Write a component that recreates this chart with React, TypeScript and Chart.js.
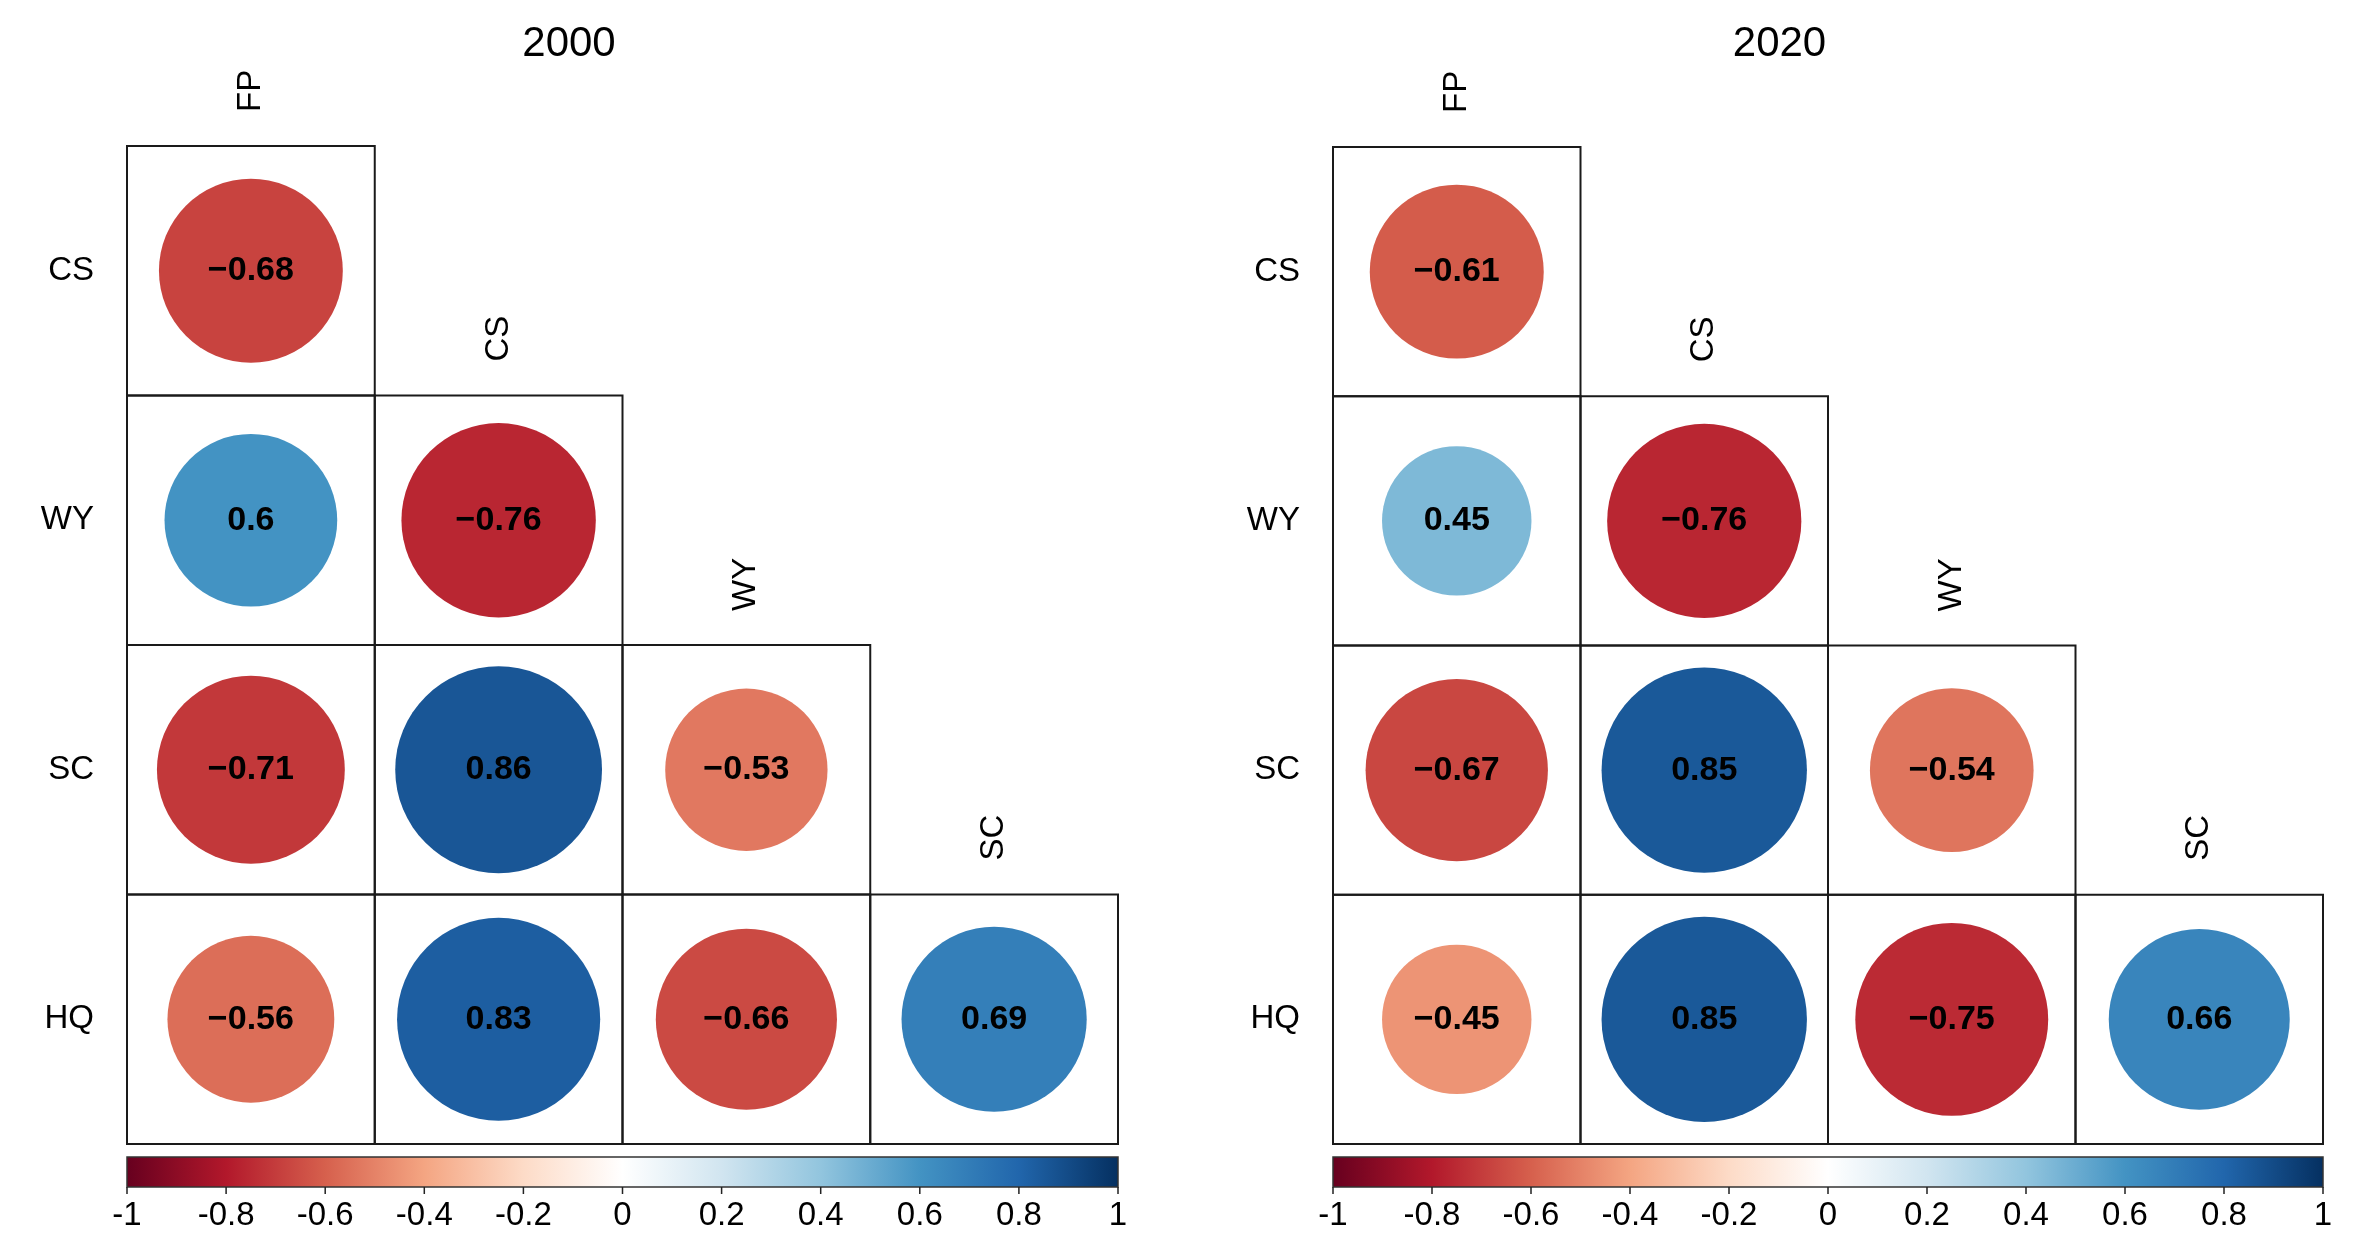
import React, { useEffect, useRef } from "react";
import { Chart, registerables } from "chart.js";

Chart.register(...registerables);

// ---------- data ----------
const rowLabels = ["CS", "WY", "SC", "HQ"];
const colLabels = ["FP", "CS", "WY", "SC"];
const cbTicks = [-1, -0.8, -0.6, -0.4, -0.2, 0, 0.2, 0.4, 0.6, 0.8, 1];

const csRow2000 = [-0.68];
const wyRow2000 = [0.6, -0.76];
const scRow2000 = [-0.71, 0.86, -0.53];
const hqRow2000 = [-0.56, 0.83, -0.66, 0.69];

const csRow2020 = [-0.61];
const wyRow2020 = [0.45, -0.76];
const scRow2020 = [-0.67, 0.85, -0.54];
const hqRow2020 = [-0.45, 0.85, -0.75, 0.66];

// ---------- style ----------
const palette = [
  "#67001F", "#B2182B", "#D6604D", "#F4A582", "#FDDBC7", "#FFFFFF",
  "#D1E5F0", "#92C5DE", "#4393C3", "#2166AC", "#053061",
];
const FONT = "'Liberation Sans', Arial, Helvetica, sans-serif";

function hexToRgb(h: string) {
  const n = parseInt(h.slice(1), 16);
  return [(n >> 16) & 255, (n >> 8) & 255, n & 255];
}
function colorFor(v: number) {
  const t = Math.max(0, Math.min(1, (v + 1) / 2)) * (palette.length - 1);
  const i = Math.min(palette.length - 2, Math.floor(t));
  const f = t - i;
  const a = hexToRgb(palette[i]);
  const b = hexToRgb(palette[i + 1]);
  const c = a.map((x, k) => Math.round(x + (b[k] - x) * f));
  return `rgb(${c[0]},${c[1]},${c[2]})`;
}
function fmtCell(v: number) {
  return (v < 0 ? "\u2212" : "") + String(Math.abs(v));
}
function fmtTick(v: number) {
  const r = Math.round(v * 10) / 10;
  if (r === 0) return "0";
  return (r < 0 ? "-" : "") + String(Math.abs(r));
}

type Geo = { axisW: number; right: number; top: number; bottomH: number; titleFrac: number };

function CorrPanel({ title, rows, geo }: { title: string; rows: number[][]; geo: Geo }) {
  const ref = useRef<HTMLCanvasElement>(null);
  useEffect(() => {
    const points: { x: number; y: number; v: number; r?: number }[] = [];
    rows.forEach((row, i) => row.forEach((v, j) => points.push({ x: j + 0.5, y: i + 0.5, v })));

    const decor = {
      id: "corrDecor",
      beforeDatasetsDraw(chart: any) {
        const { ctx } = chart;
        const xs = chart.scales.x, ys = chart.scales.y;
        ctx.save();
        ctx.strokeStyle = "#1a1a1a";
        ctx.lineWidth = 2;
        rows.forEach((row, i) =>
          row.forEach((_v, j) => {
            const x0 = xs.getPixelForValue(j), x1 = xs.getPixelForValue(j + 1);
            const y0 = ys.getPixelForValue(i), y1 = ys.getPixelForValue(i + 1);
            ctx.strokeRect(x0, Math.min(y0, y1), x1 - x0, Math.abs(y1 - y0));
          })
        );
        ctx.restore();
      },
      afterDatasetsDraw(chart: any) {
        const { ctx, chartArea } = chart;
        const xs = chart.scales.x, ys = chart.scales.y;
        ctx.save();
        // correlation numbers
        ctx.fillStyle = "#000";
        ctx.font = `bold 34px ${FONT}`;
        ctx.textAlign = "center";
        ctx.textBaseline = "middle";
        const meta = chart.getDatasetMeta(0);
        meta.data.forEach((el: any, k: number) => {
          ctx.fillText(fmtCell(points[k].v), el.x, el.y);
        });
        // column labels (rotated, staggered above the diagonal)
        ctx.font = `33px ${FONT}`;
        colLabels.forEach((lab, j) => {
          const cx = xs.getPixelForValue(j + 0.5);
          const topY = ys.getPixelForValue(j);
          ctx.save();
          ctx.translate(cx, topY - 34);
          ctx.rotate(-Math.PI / 2);
          ctx.textAlign = "left";
          ctx.textBaseline = "middle";
          ctx.fillText(lab, 0, 0);
          ctx.restore();
        });
        // title
        ctx.font = `42px ${FONT}`;
        ctx.textAlign = "center";
        ctx.textBaseline = "alphabetic";
        ctx.fillText(title, chartArea.left + geo.titleFrac * (chartArea.right - chartArea.left), 56);
        ctx.restore();
      },
      afterDraw(chart: any) {
        const { ctx, chartArea } = chart;
        const cb = chart.scales.cb;
        const xL = cb.getPixelForValue(-1), xR = cb.getPixelForValue(1);
        const yT = chartArea.bottom + 13, yB = chartArea.bottom + 43;
        ctx.save();
        const g = ctx.createLinearGradient(xL, 0, xR, 0);
        palette.forEach((c, i) => g.addColorStop(i / (palette.length - 1), c));
        ctx.fillStyle = g;
        ctx.fillRect(xL, yT, xR - xL, yB - yT);
        ctx.strokeStyle = "#333";
        ctx.lineWidth = 1.5;
        ctx.strokeRect(xL, yT, xR - xL, yB - yT);
        ctx.beginPath();
        cbTicks.forEach((t) => {
          const px = cb.getPixelForValue(t);
          ctx.moveTo(px, yB);
          ctx.lineTo(px, yB + 7);
        });
        ctx.strokeStyle = "#222";
        ctx.lineWidth = 1.5;
        ctx.stroke();
        ctx.restore();
      },
    };

    const chart = new Chart(ref.current as HTMLCanvasElement, {
      type: "bubble",
      data: {
        datasets: [
          {
            data: points as any,
            borderWidth: 0,
            radius: 0,
            clip: false,
            backgroundColor: points.map((p) => colorFor(p.v)),
          } as any,
        ],
      },
      options: {
        animation: false,
        responsive: false,
        events: [],
        layout: { autoPadding: false, padding: { left: 0, right: geo.right, top: geo.top, bottom: 0 } },
        plugins: { legend: { display: false }, tooltip: { enabled: false }, title: { display: false } },
        scales: {
          x: { type: "linear", min: 0, max: 4, display: false },
          y: {
            type: "linear",
            min: 0,
            max: 4,
            reverse: true,
            position: "left",
            grid: { display: false, drawTicks: false },
            border: { display: false },
            afterBuildTicks: (axis: any) => {
              axis.ticks = rowLabels.map((_l, i) => ({ value: i + 0.5 }));
            },
            afterFit: (axis: any) => {
              axis.width = geo.axisW;
            },
            ticks: {
              autoSkip: false,
              padding: 33,
              color: "#000",
              font: { family: FONT, size: 33 },
              callback: (_v: any, i: number) => rowLabels[i],
            },
          },
          cb: {
            type: "linear",
            axis: "x",
            position: "bottom",
            min: -1,
            max: 1,
            grid: { display: false, drawTicks: true, tickLength: 52 },
            border: { display: false },
            afterBuildTicks: (axis: any) => {
              axis.ticks = cbTicks.map((t) => ({ value: t }));
            },
            afterFit: (axis: any) => {
              axis.height = geo.bottomH;
            },
            ticks: {
              autoSkip: false,
              maxRotation: 0,
              padding: 0,
              color: "#000",
              font: { family: FONT, size: 33 },
              callback: (v: any) => fmtTick(Number(v)),
            },
          },
        },
      } as any,
      plugins: [decor],
    });
    // circle area ∝ |r|: radius taken from the laid-out x scale's cell width
    const xs: any = chart.scales.x;
    const cell = Math.abs(xs.getPixelForValue(1) - xs.getPixelForValue(0));
    points.forEach((p) => {
      p.r = 0.45 * cell * Math.sqrt(Math.abs(p.v));
    });
    chart.update();
    return () => chart.destroy();
  }, []);
  return <canvas ref={ref} width={1177} height={1247} style={{ display: "block", width: 1177, height: 1247 }} />;
}

export default function App() {
  return (
    <div style={{ position: "absolute", left: 0, top: 0, width: 2354, height: 1247, display: "flex", background: "#fff" }}>
      <CorrPanel
        title="2000"
        rows={[csRow2000, wyRow2000, scRow2000, hqRow2000]}
        geo={{ axisW: 127, right: 59, top: 146, bottomH: 103, titleFrac: 0.446 }}
      />
      <CorrPanel
        title="2020"
        rows={[csRow2020, wyRow2020, scRow2020, hqRow2020]}
        geo={{ axisW: 156, right: 31, top: 147, bottomH: 103, titleFrac: 0.451 }}
      />
    </div>
  );
}
